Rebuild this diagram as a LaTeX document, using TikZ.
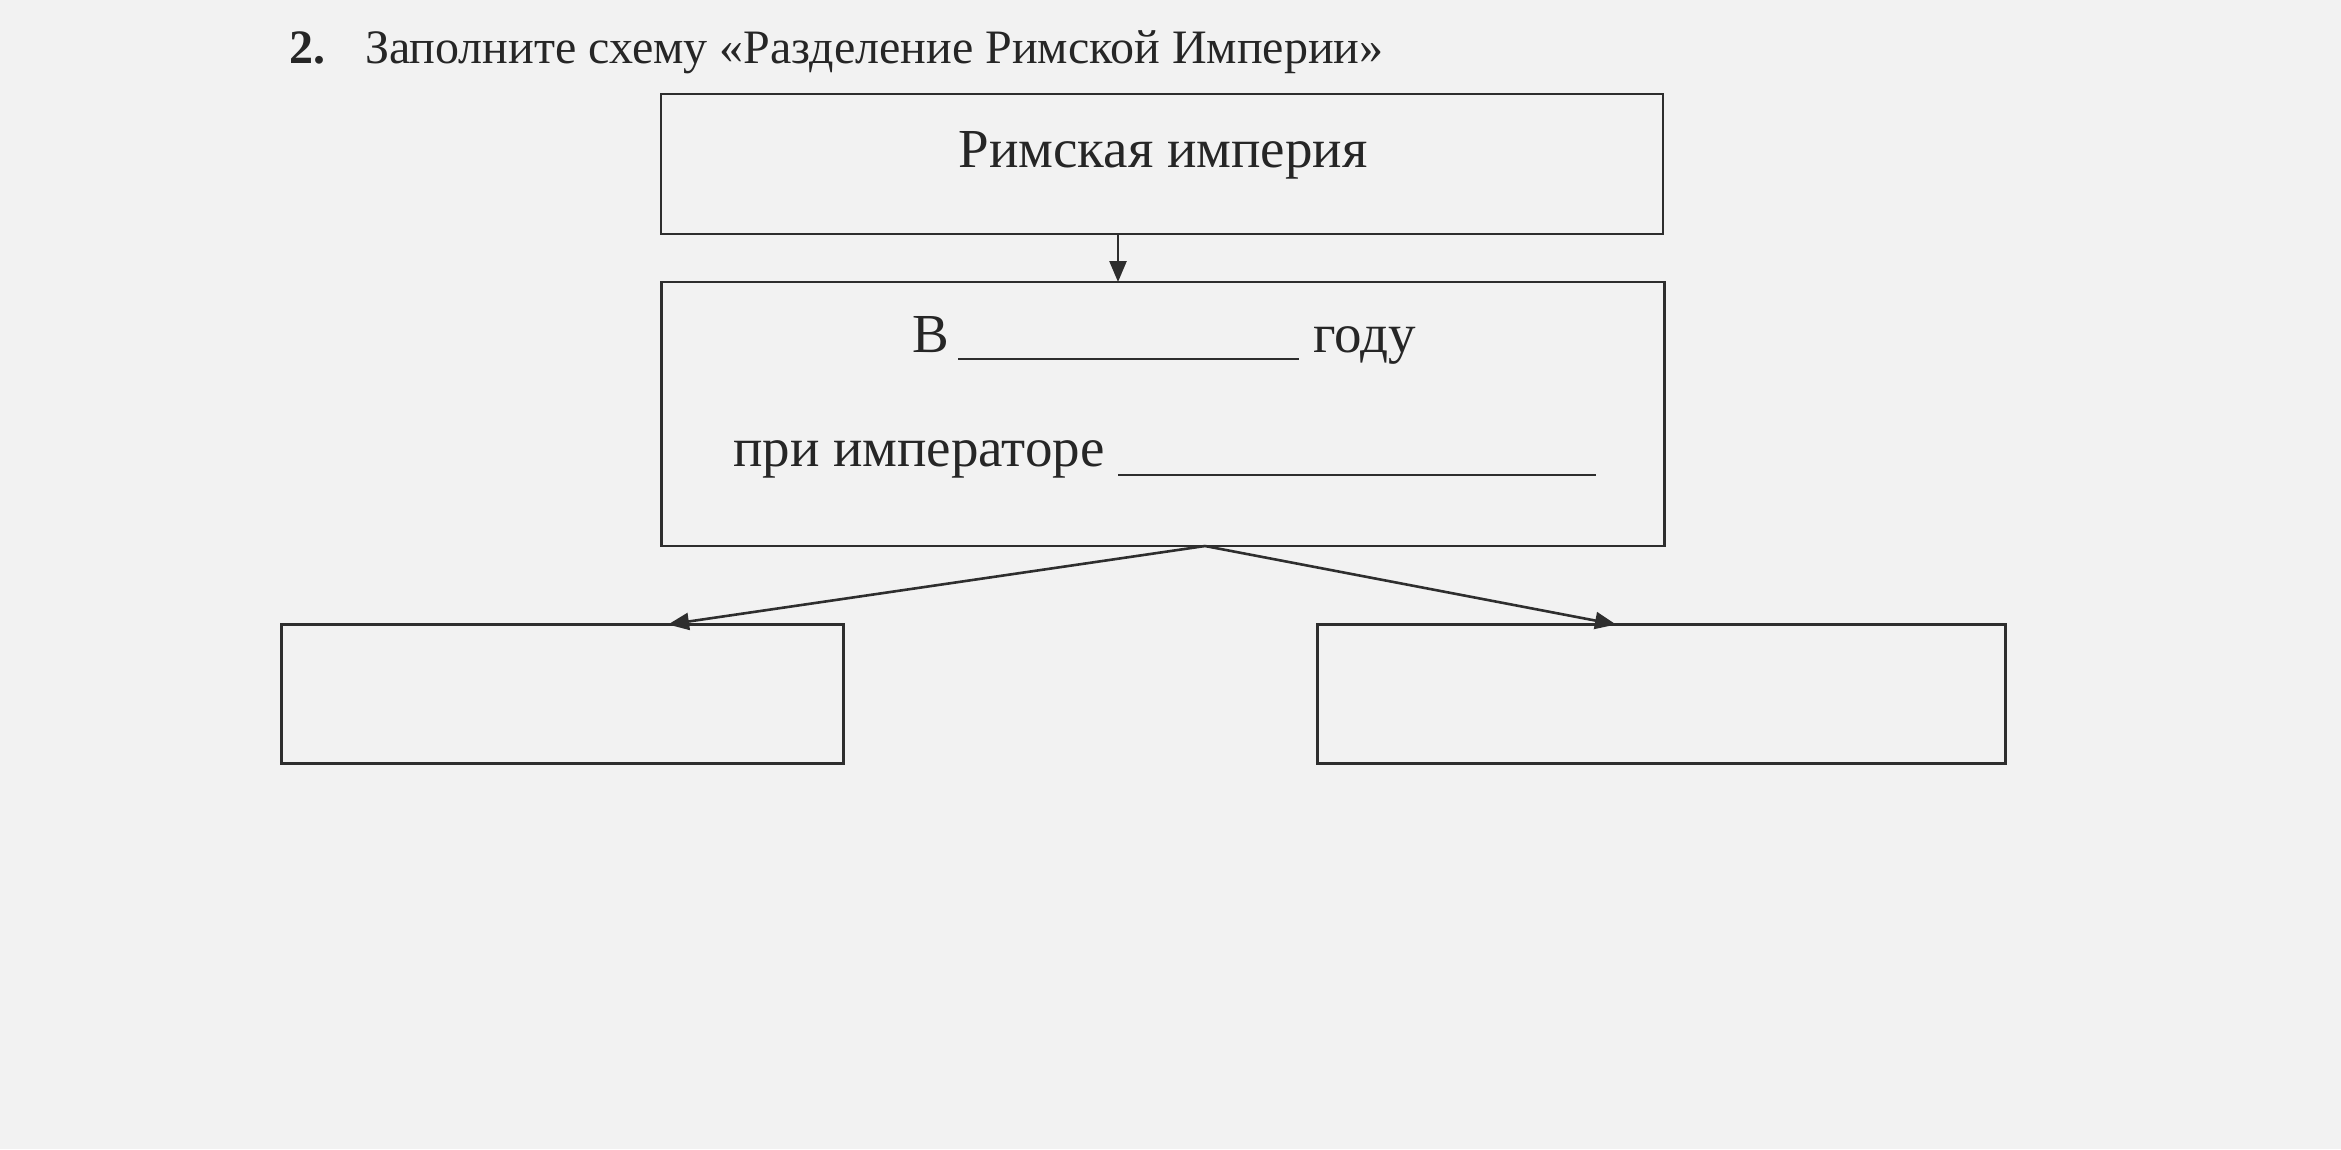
\documentclass[tikz,border=0pt]{standalone}
\usepackage{fontspec}
\setmainfont{Liberation Serif}
\usetikzlibrary{arrows.meta}
\begin{document}
\begin{tikzpicture}[x=1pt,y=-1pt,
  ink/.style={draw=black!82,line width=2.6pt},
  boxnode/.style={ink,rectangle,inner sep=0pt,outer sep=0pt},
  arr/.style={ink,-{Triangle[length=21pt,width=17pt]}},
  bigtext/.style={text=black!85,font=\fontsize{55}{60}\selectfont,inner sep=0pt,anchor=base west},
  titletext/.style={text=black!85,font=\fontsize{48}{54}\selectfont,inner sep=0pt,anchor=base west}]
\fill[black!5] (0,0) rectangle (2341,1149);
\useasboundingbox (0,0) rectangle (2341,1149);
% title
\node[titletext,font=\fontsize{48}{54}\selectfont\bfseries] (num) at (289,63) {2.};
\node[titletext] (title) at (365,63) {Заполните схему «Разделение Римской Империи»};
% boxes
\node[boxnode,minimum width=1002pt,minimum height=140pt] (b1) at (1162,164) {};
\node[bigtext,anchor=base] (t1) at (1163,167) {Римская империя};
\node[boxnode,minimum width=1003pt,minimum height=264pt] (b2) at (1163,414) {};
\node[bigtext] (tv) at (912,352) {В};
\node[bigtext] (tg) at (1313,352) {году};
\node[bigtext] (tp) at (733,466) {при императоре};
\coordinate (l1a) at (958,359);
\coordinate (l1b) at (1299,359);
\coordinate (l2a) at (1118,475);
\coordinate (l2b) at (1596,475);
\draw[ink,line width=2pt] (l1a) -- (l1b);
\draw[ink,line width=2pt] (l2a) -- (l2b);
\node[boxnode,minimum width=562pt,minimum height=139pt] (lb) at (562.5,694) {};
\node[boxnode,minimum width=688pt,minimum height=139pt] (rb) at (1661.5,694) {};
% connectors
\coordinate (ax) at (1118,0);
\coordinate (sx) at (1205,0);
\coordinate (lx) at (668,0);
\coordinate (rx) at (1616,0);
\draw[arr] (b1.south -| ax) -- (b2.north -| ax);
\draw[arr] (b2.south -| sx) -- (lb.north -| lx);
\draw[arr] (b2.south -| sx) -- (rb.north -| rx);
\end{tikzpicture}
\end{document}
